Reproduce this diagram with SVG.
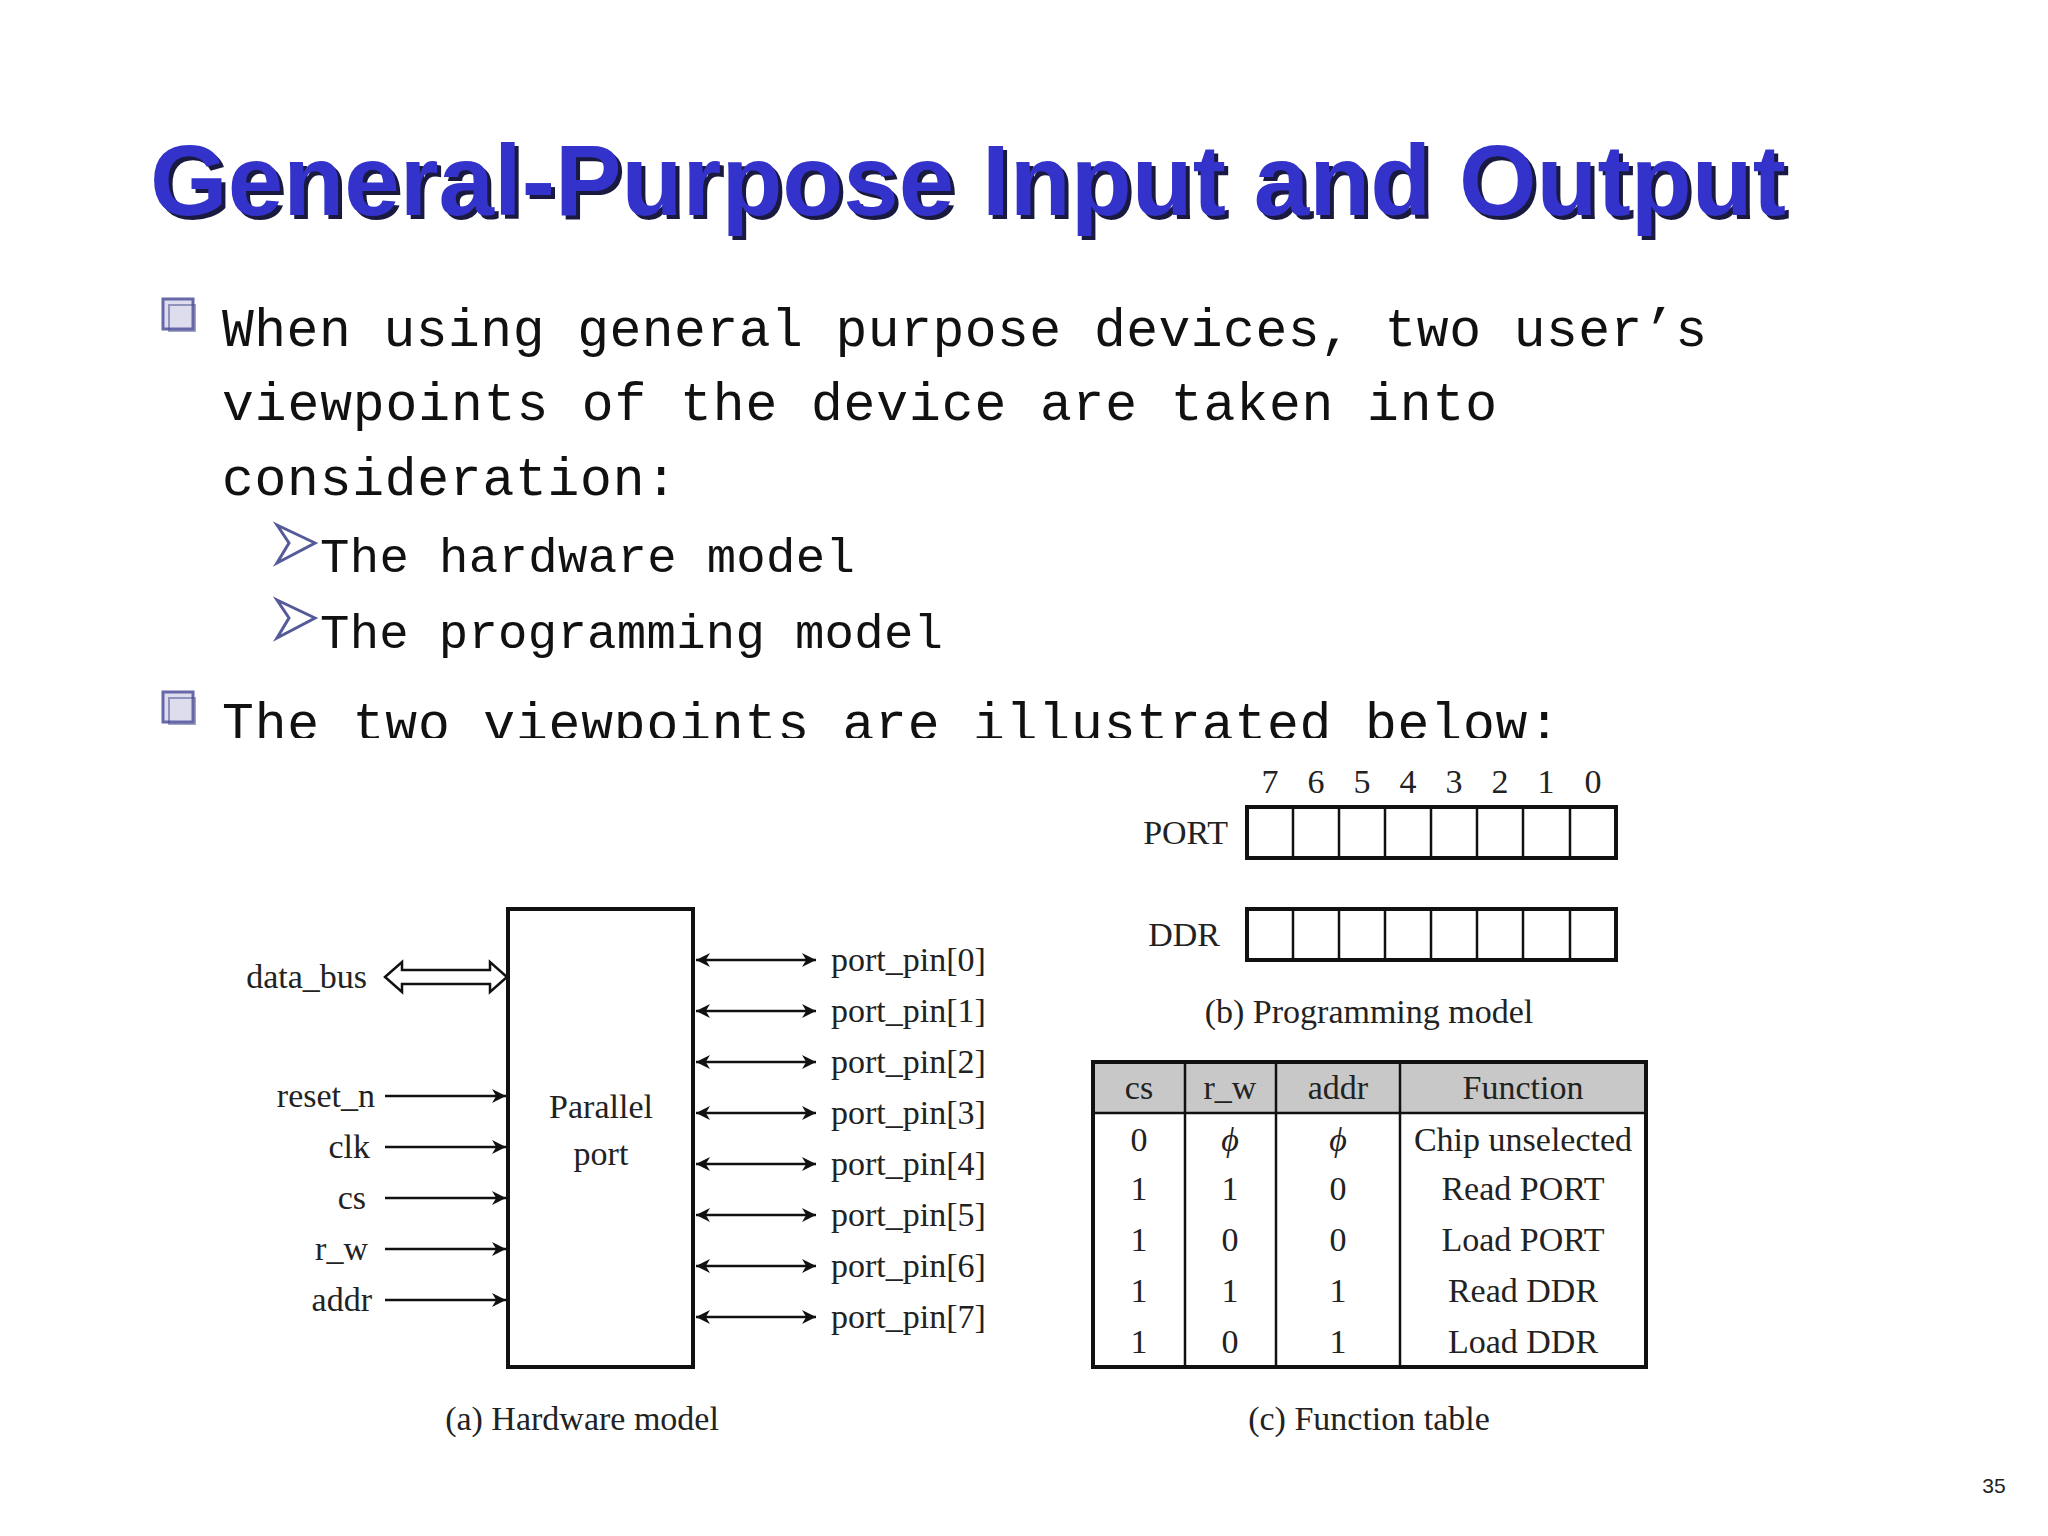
<svg xmlns="http://www.w3.org/2000/svg" width="2048" height="1536" viewBox="0 0 2048 1536">
<defs>
<style>
.t{font-family:"Liberation Serif","Times New Roman",serif;font-size:34px;fill:#222}
.m{font-family:"Liberation Mono","DejaVu Sans Mono",monospace;fill:#111}
.ln{stroke:#111;stroke-width:2.5;fill:none}
.bx{stroke:#111;stroke-width:4;fill:none}
</style>
<marker id="ah" viewBox="0 0 10 10" refX="10" refY="5" markerWidth="14" markerHeight="14" markerUnits="userSpaceOnUse" orient="auto-start-reverse"><path d="M0,0 L10,5 L0,10 L3,5 Z" fill="#111"/></marker>
<clipPath id="cl"><rect x="0" y="0" width="2048" height="738"/></clipPath>
<g id="sq"><rect x="0" y="0" width="30" height="30" fill="#dde" stroke="#6668aa" stroke-width="3"/><rect x="6" y="6" width="26" height="26" fill="none" stroke="#444a88" stroke-width="2" opacity="0.5"/></g>
<g id="arr"><path d="M0,0 L38,18 L0,38 L12,18 Z" fill="#fff" stroke="#555a99" stroke-width="3"/></g>
</defs>
<rect width="2048" height="1536" fill="#fff"/>
<g id="title">
<text x="154" y="219" font-family="Liberation Sans,Arial,sans-serif" font-weight="bold" font-size="100" fill="#1a1a40" textLength="1636" lengthAdjust="spacingAndGlyphs">General-Purpose Input and Output</text>
<text x="150" y="215" font-family="Liberation Sans,Arial,sans-serif" font-weight="bold" font-size="100" fill="#3333cc" textLength="1636" lengthAdjust="spacingAndGlyphs">General-Purpose Input and Output</text>
</g>
<g id="bullets">
<use href="#sq" x="163" y="299"/>
<text class="m" font-size="53" x="222" y="346" textLength="1485">When using general purpose devices, two user’s</text>
<text class="m" font-size="53" x="222" y="420" textLength="1275">viewpoints of the device are taken into</text>
<text class="m" font-size="53" x="222" y="495" textLength="455">consideration:</text>
<use href="#arr" x="277" y="525"/>
<text class="m" font-size="49" x="320" y="572" fill="#333" textLength="535">The hardware model</text>
<use href="#arr" x="277" y="600"/>
<text class="m" font-size="49" x="320" y="648" fill="#333" textLength="623">The programming model</text>
<use href="#sq" x="163" y="692"/>
<g clip-path="url(#cl)"><text class="m" font-size="53" x="222" y="740" textLength="1338">The two viewpoints are illustrated below:</text></g>
</g>
<g id="parallel_port">
<rect class="bx" x="508" y="909" width="185" height="458"/>
<text class="t" x="601" y="1118" text-anchor="middle">Parallel</text>
<text class="t" x="601" y="1165" text-anchor="middle">port</text>
</g>
<g id="inputs">
<text class="t" x="367" y="988" text-anchor="end">data_bus</text>
<text class="t" x="375" y="1107" text-anchor="end">reset_n</text>
<text class="t" x="370" y="1158" text-anchor="end">clk</text>
<text class="t" x="366" y="1209" text-anchor="end">cs</text>
<text class="t" x="368" y="1260" text-anchor="end">r_w</text>
<text class="t" x="372" y="1311" text-anchor="end">addr</text>
</g>
<g id="outputs">
<text class="t" x="831" y="971">port_pin[0]</text>
<text class="t" x="831" y="1022">port_pin[1]</text>
<text class="t" x="831" y="1073">port_pin[2]</text>
<text class="t" x="831" y="1124">port_pin[3]</text>
<text class="t" x="831" y="1175">port_pin[4]</text>
<text class="t" x="831" y="1226">port_pin[5]</text>
<text class="t" x="831" y="1277">port_pin[6]</text>
<text class="t" x="831" y="1328">port_pin[7]</text>
<text class="t" x="582" y="1430" text-anchor="middle">(a) Hardware model</text>
</g>
<g id="connectors">
<path d="M385,977 L402,962 L402,970 L490,970 L490,962 L507,977 L490,992 L490,984 L402,984 L402,992 Z" fill="#fff" stroke="#111" stroke-width="2.5"/>
<line class="ln" x1="385" y1="1096" x2="506" y2="1096" marker-end="url(#ah)"/>
<line class="ln" x1="385" y1="1147" x2="506" y2="1147" marker-end="url(#ah)"/>
<line class="ln" x1="385" y1="1198" x2="506" y2="1198" marker-end="url(#ah)"/>
<line class="ln" x1="385" y1="1249" x2="506" y2="1249" marker-end="url(#ah)"/>
<line class="ln" x1="385" y1="1300" x2="506" y2="1300" marker-end="url(#ah)"/>
<line class="ln" x1="696" y1="960" x2="816" y2="960" marker-start="url(#ah)" marker-end="url(#ah)"/>
<line class="ln" x1="696" y1="1011" x2="816" y2="1011" marker-start="url(#ah)" marker-end="url(#ah)"/>
<line class="ln" x1="696" y1="1062" x2="816" y2="1062" marker-start="url(#ah)" marker-end="url(#ah)"/>
<line class="ln" x1="696" y1="1113" x2="816" y2="1113" marker-start="url(#ah)" marker-end="url(#ah)"/>
<line class="ln" x1="696" y1="1164" x2="816" y2="1164" marker-start="url(#ah)" marker-end="url(#ah)"/>
<line class="ln" x1="696" y1="1215" x2="816" y2="1215" marker-start="url(#ah)" marker-end="url(#ah)"/>
<line class="ln" x1="696" y1="1266" x2="816" y2="1266" marker-start="url(#ah)" marker-end="url(#ah)"/>
<line class="ln" x1="696" y1="1317" x2="816" y2="1317" marker-start="url(#ah)" marker-end="url(#ah)"/>
</g>
<g id="registers">
<g class="t" text-anchor="middle">
<text x="1270" y="793">7</text><text x="1316" y="793">6</text><text x="1362" y="793">5</text><text x="1408" y="793">4</text><text x="1454" y="793">3</text><text x="1500" y="793">2</text><text x="1546" y="793">1</text><text x="1593" y="793">0</text>
</g>
<text class="t" x="1228" y="844" text-anchor="end">PORT</text>
<rect class="bx" x="1247" y="807" width="369" height="51"/>
<path class="ln" d="M1293,807V858M1339,807V858M1385,807V858M1431,807V858M1477,807V858M1523,807V858M1570,807V858"/>
<text class="t" x="1220" y="946" text-anchor="end">DDR</text>
<rect class="bx" x="1247" y="909" width="369" height="51"/>
<path class="ln" d="M1293,909V960M1339,909V960M1385,909V960M1431,909V960M1477,909V960M1523,909V960M1570,909V960"/>
<text class="t" x="1369" y="1023" text-anchor="middle">(b) Programming model</text>
</g>
<g id="function_table">
<rect x="1093" y="1062" width="553" height="51" fill="#c8c8c8"/>
<rect class="bx" x="1093" y="1062" width="553" height="305"/>
<path class="ln" d="M1093,1113H1646M1185,1062V1367M1276,1062V1367M1400,1062V1367"/>
<g class="t" text-anchor="middle">
<text x="1139" y="1099">cs</text><text x="1230" y="1099">r_w</text><text x="1338" y="1099">addr</text><text x="1523" y="1099">Function</text>
<text x="1139" y="1151">0</text><text x="1230" y="1151" font-style="italic">ϕ</text><text x="1338" y="1151" font-style="italic">ϕ</text><text x="1523" y="1151">Chip unselected</text>
<text x="1139" y="1200">1</text><text x="1230" y="1200">1</text><text x="1338" y="1200">0</text><text x="1523" y="1200">Read PORT</text>
<text x="1139" y="1251">1</text><text x="1230" y="1251">0</text><text x="1338" y="1251">0</text><text x="1523" y="1251">Load PORT</text>
<text x="1139" y="1302">1</text><text x="1230" y="1302">1</text><text x="1338" y="1302">1</text><text x="1523" y="1302">Read DDR</text>
<text x="1139" y="1353">1</text><text x="1230" y="1353">0</text><text x="1338" y="1353">1</text><text x="1523" y="1353">Load DDR</text>
</g>
<text class="t" x="1369" y="1430" text-anchor="middle">(c) Function table</text>
</g>
<text x="1994" y="1493" text-anchor="middle" font-family="Liberation Sans,Arial,sans-serif" font-size="21" fill="#222">35</text>
</svg>
